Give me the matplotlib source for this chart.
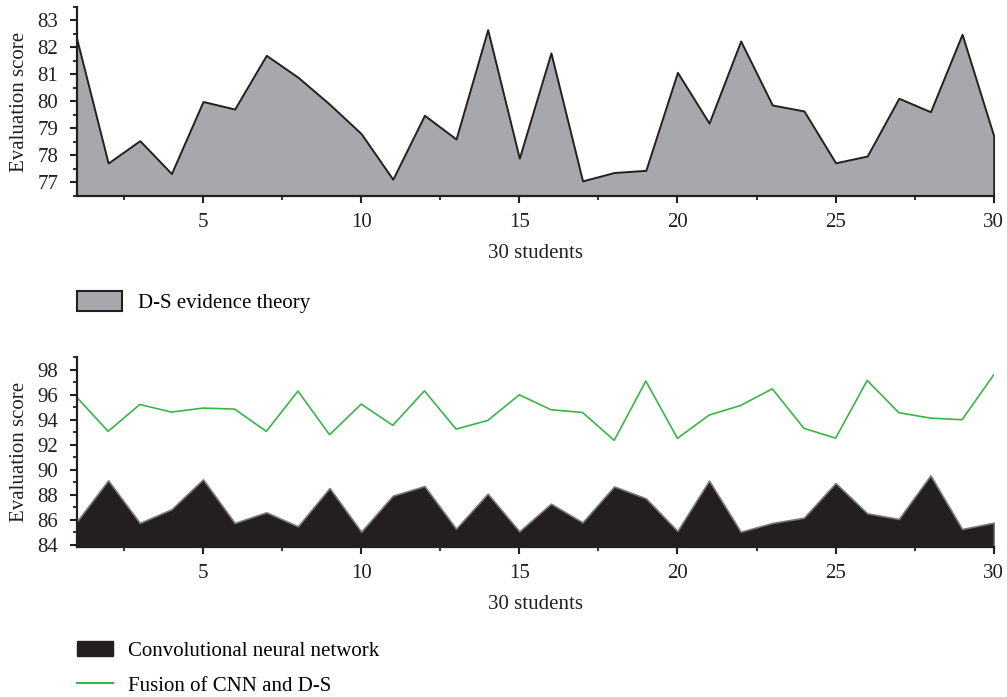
import matplotlib
matplotlib.use("Agg")
import matplotlib.pyplot as plt
from matplotlib.patches import Patch
from matplotlib.lines import Line2D
from matplotlib.ticker import MultipleLocator

plt.rcParams['font.family'] = ['Liberation Serif', 'DejaVu Serif']
plt.rcParams['font.size'] = 15

students = list(range(1, 31))

ds_scores = [82.35, 77.72, 78.55, 77.33, 80.0, 79.72, 81.71, 80.9, 79.9, 78.81,
             77.12, 79.49, 78.61, 82.66, 77.9, 81.8, 77.06, 77.37, 77.45, 81.08,
             79.2, 82.24, 79.87, 79.65, 77.73, 77.98, 80.12, 79.62, 82.49, 78.73]

cnn_scores = [85.84, 89.16, 85.76, 86.85, 89.24, 85.76, 86.61, 85.49, 88.55, 85.06,
              87.94, 88.71, 85.30, 88.10, 85.09, 87.30, 85.81, 88.68, 87.73, 85.12,
              89.14, 85.06, 85.76, 86.18, 88.95, 86.53, 86.08, 89.56, 85.28, 85.78]

fusion_scores = [95.82, 93.08, 95.23, 94.62, 94.94, 94.86, 93.08, 96.30, 92.81, 95.26,
                 93.56, 96.32, 93.26, 93.95, 96.0, 94.81, 94.59, 92.36, 97.1, 92.52,
                 94.38, 95.15, 96.48, 93.32, 92.54, 97.15, 94.57, 94.14, 94.01, 97.6]

ink = '#231f20'
gray = '#a7a8ab'
green = '#39b54a'


def style_axes(ax, ymin, ymax, ymajor, yminor):
    ax.set_xlim(1, 30)
    ax.set_ylim(ymin, ymax)
    ax.xaxis.set_major_locator(MultipleLocator(5))
    ax.xaxis.set_minor_locator(MultipleLocator(2.5))
    ax.yaxis.set_major_locator(MultipleLocator(ymajor))
    ax.yaxis.set_minor_locator(MultipleLocator(yminor))
    for side in ('top', 'right'):
        ax.spines[side].set_visible(False)
    for side in ('left', 'bottom'):
        ax.spines[side].set_linewidth(1.6)
        ax.spines[side].set_color(ink)
    ax.tick_params(which='major', direction='out', length=5, width=1.5, color=ink,
                   labelsize=15, labelcolor=ink)
    ax.tick_params(which='minor', direction='out', length=2.6, width=1.3, color=ink)
    ax.tick_params(axis='x', which='major', pad=7)
    ax.tick_params(axis='y', which='major', pad=8)
    ax.set_xlabel('30 students', color=ink, labelpad=9)
    ax.set_ylabel('Evaluation score', color=ink, labelpad=6)


fig = plt.figure(figsize=(10.07, 6.97), dpi=100)

# D-S evidence theory
ax1 = fig.add_axes([0.076, 0.7188, 0.9108, 0.2712])
ax1.fill_between(students, ds_scores, 76.5, facecolor=gray, edgecolor=ink, linewidth=1.4)
style_axes(ax1, 76.5, 83.5, 1, 0.5)

# CNN vs fusion
ax2 = fig.add_axes([0.076, 0.2152, 0.9108, 0.2722])
ax2.fill_between(students, cnn_scores, 83.84, facecolor=ink, edgecolor='#777777', linewidth=1.2)
ax2.plot(students, fusion_scores, color=green, linewidth=1.2)
style_axes(ax2, 83.84, 99, 2, 1)

fig.legend(handles=[Patch(facecolor=gray, edgecolor=ink, linewidth=1.5,
                          label='D-S evidence theory')],
           loc='center left', bbox_to_anchor=(77 / 1007, 1 - 302 / 697),
           frameon=False, borderpad=0, borderaxespad=0,
           handlelength=2.16, handleheight=1.06, handletextpad=0.77, fontsize=15)

fig.legend(handles=[Patch(facecolor=ink, edgecolor=ink, label='Convolutional neural network'),
                    Line2D([], [], color=green, linewidth=1.5, label='Fusion of CNN and D-S')],
           loc='upper left', bbox_to_anchor=(77 / 1007, 1 - 641 / 697),
           frameon=False, borderpad=0, borderaxespad=0, labelspacing=0.74,
           handlelength=1.73, handleheight=0.72, handletextpad=0.72, fontsize=15)

fig.savefig('out.png', dpi=100)
